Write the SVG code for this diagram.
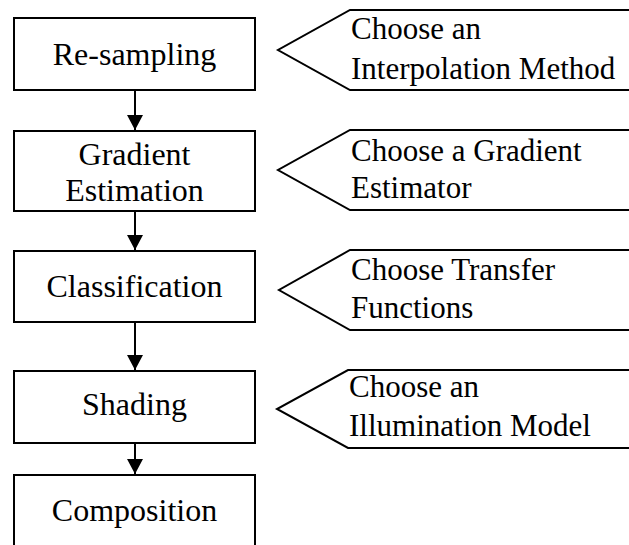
<svg xmlns="http://www.w3.org/2000/svg" width="629" height="545" viewBox="0 0 629 545">
  <defs>
    <marker id="arrow" viewBox="0 0 15 16" refX="15" refY="8" markerWidth="15" markerHeight="16" markerUnits="userSpaceOnUse" orient="auto">
      <path d="M0,0 L15,8 L0,16 Z" fill="#000"/>
    </marker>
    <style>
      .box { fill: #fff; stroke: #000; stroke-width: 2; }
      .callout { fill: #fff; stroke: #000; stroke-width: 2; stroke-linejoin: miter; }
      .edge { stroke: #000; stroke-width: 2; fill: none; marker-end: url(#arrow); }
      text { font-family: 'Liberation Serif', 'DejaVu Serif', serif; fill: #000; }
      .label { font-size: 32px; text-anchor: middle; }
      .note { font-size: 31px; }
    </style>
  </defs>
  <rect width="629" height="545" fill="#fff"/>

  <!-- pipeline stages -->
  <g id="resampling">
    <rect class="box" x="14" y="18" width="241" height="72"/>
    <text class="label" font-family="Liberation Serif" x="134.5" y="65">Re-sampling</text>
  </g>
  <g id="gradient-estimation">
    <rect class="box" x="14" y="131" width="241" height="80"/>
    <text class="label" font-family="Liberation Serif" x="134.5" y="165">Gradient</text>
    <text class="label" font-family="Liberation Serif" x="134.5" y="201">Estimation</text>
  </g>
  <g id="classification">
    <rect class="box" x="14" y="251" width="241" height="71"/>
    <text class="label" font-family="Liberation Serif" x="134.5" y="297">Classification</text>
  </g>
  <g id="shading">
    <rect class="box" x="14" y="371" width="241" height="72"/>
    <text class="label" font-family="Liberation Serif" x="134.5" y="415">Shading</text>
  </g>
  <g id="composition">
    <rect class="box" x="14" y="475" width="241" height="90"/>
    <text class="label" font-family="Liberation Serif" x="134.5" y="521">Composition</text>
  </g>

  <!-- option callouts -->
  <g id="interpolation-choice">
    <path class="callout" d="M640,10 L350,10 L278,50 L350,90 L640,90"/>
    <text class="note" font-family="Liberation Serif" x="351" y="39">Choose an</text>
    <text class="note" font-family="Liberation Serif" x="351" y="79">Interpolation Method</text>
  </g>
  <g id="gradient-choice">
    <path class="callout" d="M640,130 L350,130 L278,170 L350,210 L640,210"/>
    <text class="note" font-family="Liberation Serif" x="351" y="161">Choose a Gradient</text>
    <text class="note" font-family="Liberation Serif" x="351" y="198">Estimator</text>
  </g>
  <g id="transfer-choice">
    <path class="callout" d="M640,250 L350,250 L279,290 L350,330 L640,330"/>
    <text class="note" font-family="Liberation Serif" x="351" y="280">Choose Transfer</text>
    <text class="note" font-family="Liberation Serif" x="351" y="318">Functions</text>
  </g>
  <g id="illumination-choice">
    <path class="callout" d="M640,370 L348,370 L277,409 L348,448 L640,448"/>
    <text class="note" font-family="Liberation Serif" x="349" y="397">Choose an</text>
    <text class="note" font-family="Liberation Serif" x="349" y="436">Illumination Model</text>
  </g>

  <!-- connectors -->
  <g id="connectors">
    <line class="edge" x1="135" y1="90" x2="135" y2="130"/>
    <line class="edge" x1="135" y1="211" x2="135" y2="250"/>
    <line class="edge" x1="135" y1="322" x2="135" y2="370"/>
    <line class="edge" x1="135" y1="443" x2="135" y2="474"/>
  </g>
</svg>
